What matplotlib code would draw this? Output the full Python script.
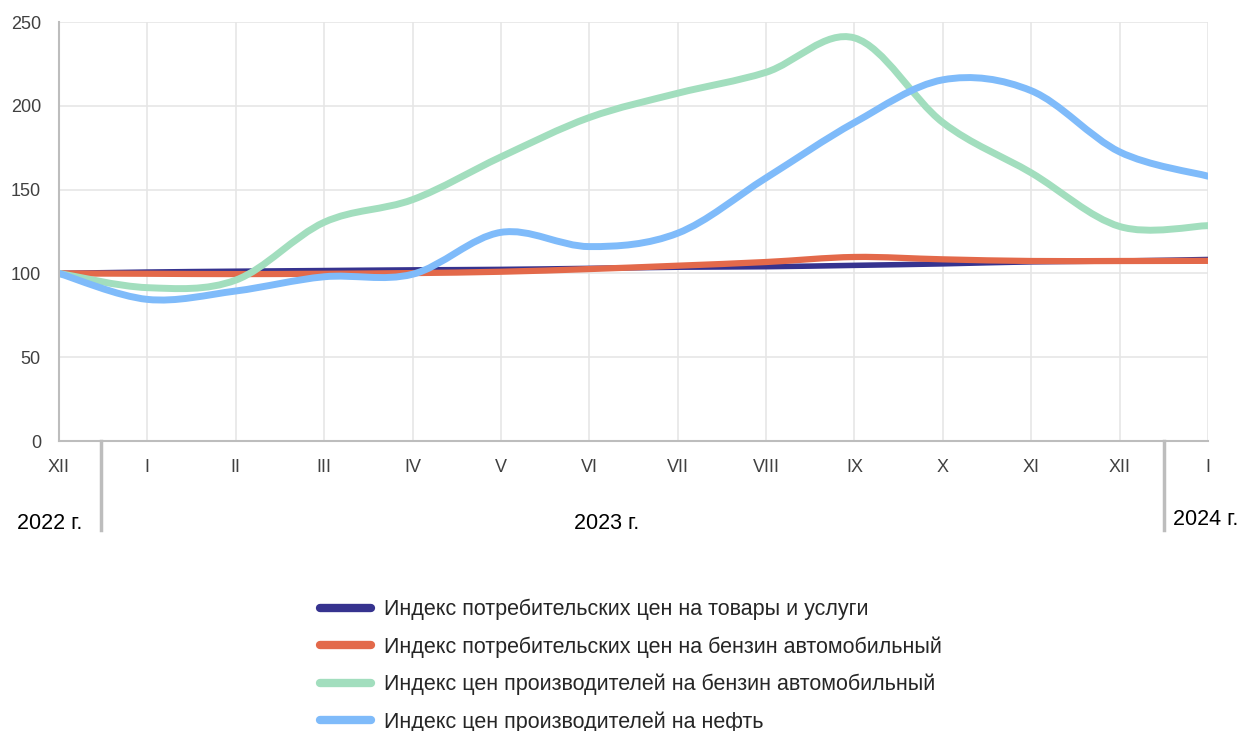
import matplotlib
matplotlib.use('Agg')
import matplotlib.pyplot as plt
import numpy as np
from matplotlib.path import Path
from matplotlib.patches import PathPatch
from matplotlib.lines import Line2D

plt.rcParams['font.family'] = ['Liberation Sans', 'DejaVu Sans']

# Data: index, December 2022 = 100
months = ['XII', 'I', 'II', 'III', 'IV', 'V', 'VI', 'VII', 'VIII', 'IX', 'X', 'XI', 'XII', 'I']
cpi_all = [100, 100.8, 101.3, 101.7, 102.1, 102.4, 103.0, 103.7, 104.0, 104.8, 105.7, 106.9, 107.4, 108.3]
cpi_petrol = [100, 99.8, 99.6, 99.8, 100.2, 101.0, 102.6, 104.6, 106.8, 109.8, 108.4, 107.4, 107.4, 107.5]
ppi_petrol = [100, 91.5, 96, 130.5, 144, 169.5, 193, 207.5, 220, 240.5, 190, 160, 128, 128.5]
ppi_oil = [100, 84.5, 89.5, 98, 99.5, 124.5, 116, 124, 157, 190, 215.5, 209, 172.5, 158]

labels = ['Индекс потребительских цен на товары и услуги',
          'Индекс потребительских цен на бензин автомобильный',
          'Индекс цен производителей на бензин автомобильный',
          'Индекс цен производителей на нефть']
colors = ['#36338f', '#e3694a', '#a2debe', '#7fbbfa']
widths = [4.0, 4.5, 5.0, 5.0]

years = ['2022 г.', '2023 г.', '2024 г.']


def smooth_path(x, y):
    """Bezier path through the points, like Excel's smoothed line."""
    p = np.column_stack([x, y]).astype(float)
    n = len(p)
    verts = [p[0]]
    codes = [Path.MOVETO]
    for i in range(n - 1):
        p0 = p[max(i - 1, 0)]
        p3 = p[min(i + 2, n - 1)]
        c1 = p[i] + (p[i + 1] - p0) / 6
        c2 = p[i + 1] - (p3 - p[i]) / 6
        verts += [c1, c2, p[i + 1]]
        codes += [Path.CURVE4] * 3
    return Path(verts, codes)


fig = plt.figure(figsize=(12.39, 7.31), dpi=100)
ax = fig.add_axes([0.0476, 0.3967, 0.9274, 0.5732])

x = np.arange(len(months))
series = [cpi_all, cpi_petrol, ppi_petrol, ppi_oil]
for vals, c, w in zip(series, colors, widths):
    patch = PathPatch(smooth_path(x, vals), facecolor='none', edgecolor=c,
                      lw=w, capstyle='round', joinstyle='round')
    ax.add_patch(patch)

ax.set_xlim(0, len(months) - 1)
ax.set_ylim(0, 250)
ax.set_xticks(x)
ax.set_xticklabels(months)
ax.set_yticks([0, 50, 100, 150, 200, 250])
ax.tick_params(length=0, labelsize=13, colors='#404040')
ax.tick_params(axis='x', pad=13)
ax.tick_params(axis='y', pad=13)
ax.grid(True, color='#e6e6e6', lw=1.2)
ax.set_axisbelow(True)
for s in ['top', 'right']:
    ax.spines[s].set_visible(False)
for s in ['left', 'bottom']:
    ax.spines[s].set_color('#bdbdbd')
    ax.spines[s].set_linewidth(1.5)

# year separators and labels below the axis
for xs in [0.47, 12.5]:
    ax.plot([xs, xs], [0, -53], color='#bdbdbd', lw=2.5, clip_on=False,
            transform=ax.transData)
ax.text(-0.1, -49, years[0], ha='center', va='center', fontsize=15.5, color='black')
ax.text(6.2, -49, years[1], ha='center', va='center', fontsize=15.5, color='black')
ax.text(12.97, -47, years[2], ha='center', va='center', fontsize=15.5, color='black')

handles = [Line2D([], [], color=c, lw=6, solid_capstyle='round') for c in colors]
fig.legend(handles, labels, loc='upper left', bbox_to_anchor=(0.258, 0.1805),
           frameon=False, fontsize=15.5, handlelength=2.4, handletextpad=0.6,
           labelspacing=0.74, borderpad=0, borderaxespad=0, labelcolor='#262626')

fig.savefig('out.png', dpi=100)
